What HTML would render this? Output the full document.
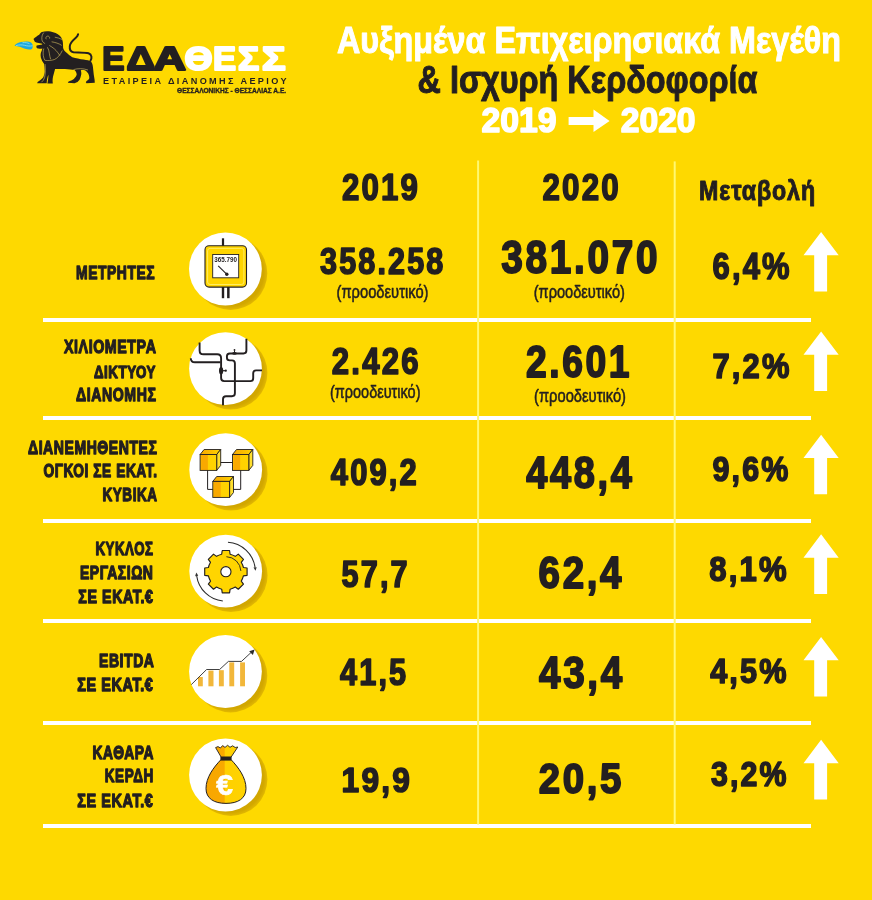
<!DOCTYPE html>
<html lang="el"><head><meta charset="utf-8"><title>ΕΔΑ ΘΕΣΣ - Αυξημένα Επιχειρησιακά Μεγέθη 2019-2020</title>
<style>html,body{margin:0;padding:0;background:#fed900;}svg{display:block;}</style></head>
<body>
<svg width="872" height="900" viewBox="0 0 872 900">
<rect x="0" y="0" width="872" height="900" fill="#fed900"/>
<path d="M33.5,39 C35,37.5 37.5,35.8 39.2,34.8 C40.2,33 41,32.3 42,31.9 C44.5,31.1 48,31 50.6,31.6 C54,32.2 57.5,33.8 59.8,35.8 C62,38 63,41 63,44.1 L63.1,47.7 C63.4,49.5 64.5,51 66,52.3 C68,54 70,56 72.3,57.2 C76,58.3 80,59 83.5,59.5 C87,60 89.5,60.5 91.2,61.8 C92.5,63.5 93,66.5 93.2,69.4 C93.5,73 94,76.5 94.6,79.8 L94.8,82.8 L86.4,83.2 L85.8,82 C86.8,80.8 88.6,80 89.3,78.3 C89.3,76 88.8,74.8 88.2,73.5 C87.2,71.8 86,70.8 84.8,70.2 C83.5,69.9 82,69.9 80.8,70.3 C81.3,72 81.5,73.5 81.2,74.8 C80.8,76.8 80.2,78.5 79.6,79.8 L77.5,82 L74.5,83.2 L67.8,82.8 L68.3,81.8 C70.3,81 72.5,80.2 73.8,79.1 C75.3,77.5 76.5,76 76.7,74.6 C76.6,72.8 75.8,71.3 74.5,70 C70,69.3 60,69 55.1,69 C54.5,71 54,73 53.6,74.6 C52.8,77.5 52.3,80 52.8,83.4 L47.4,83.4 L47.7,81.8 C48.2,79 48.5,76.8 48.3,74.8 C47.4,77.3 46.8,80 46.7,83.3 L37.2,83.2 L37.6,82 C39.5,80.8 41.5,79.5 43.2,77.6 C44,75.5 44.7,73 44.7,70.9 C44.7,68 44.4,65.5 43.9,63.4 C42.8,62 42,61 41.8,60 C41,58.5 40.6,57 40.6,55.5 C40.6,53.5 41,52 41.8,50.5 L42.4,48.4 C41,48.7 38.5,48.8 37,48.3 L36.3,47 L36.6,45.6 L42.2,44.6 L42.2,43.7 L36.3,42.5 L34.8,41.8 Z" fill="#231f20"/>
<path d="M90.3,61 C92.2,58.5 92,54.6 88.5,53.3 C85,52.4 78,52.6 73.5,52.3 C70.5,51.8 69.5,49 69.8,46 C70.2,42.5 73.5,39.8 76,37.6 C77.2,36.4 77.8,35.5 78.1,34.3" fill="none" stroke="#231f20" stroke-width="2.0" stroke-linecap="round"/>
<g fill="none" stroke="#e9cf6a" stroke-width="0.55"><path d="M46.3,39.2 A1.9,1.9 0 1 1 49.6,38.6"/><path d="M43.8,32.6 C42.2,34.5 41.6,37 41.9,39.5 C42.2,41.5 43.3,42.8 45.1,43.6"/><path d="M54.8,37.2 C57.5,37.6 60,38.4 62.1,39.5"/><path d="M51.6,41.8 C55,42.3 59,43.5 61.7,45.4"/><path d="M49.3,45.4 C53,47.5 56,50 57.5,52.3 C58.5,53.5 59.2,54.5 59.8,55.5"/><path d="M43.8,48.6 C43.1,51 43,53.5 43.3,55.5 C43.6,57.5 44.1,59 44.7,60.1"/><path d="M47.4,47.3 C48.5,49 49.1,51 49.3,53.2 C49.6,55.5 50.1,57.5 50.6,59.2"/><path d="M44.7,60.3 C48,60.8 51.5,60.5 54.5,59.5 C57.5,58 60.3,55 62.3,50.5"/><path d="M45,64 C45.5,68 45.5,73 44.6,77.5 C44,79.5 43,81 41.5,82.2"/><path d="M73.5,69.6 C78,68.3 83,68.3 88,70"/></g>
<path d="M14.5,45.4 C16,43.5 18.5,42.3 21,41.9 C23.5,41.4 26.5,41.2 29.3,41.7 C31.2,42.1 32.5,43.4 32.6,45 C32.8,46.5 32.8,48 32,48.9 C30.5,49.9 27.5,49.7 25,48.8 C23,48.2 21.5,47.3 20,46.7 C18,46.2 16,46 14.5,45.4 Z" fill="#1fa8de"/>
<path d="M16,45.6 C19,44.8 22,44.6 24.5,45.3 C27,46 29.5,46.3 32.6,45.8 M22.5,42.7 C25,42.3 27.5,42.7 29.5,43.7" fill="none" stroke="#8fe3f0" stroke-width="0.8"/>
<polygon points="568.6,116.9 593.5,116.9 593.5,109.6 609.6,120.9 593.5,132.1 593.5,124.9 568.6,124.9" fill="#fff"/>
<rect x="43" y="318" width="768" height="4" fill="#fff"/>
<rect x="43" y="416" width="768" height="4" fill="#fff"/>
<rect x="43" y="519" width="768" height="4" fill="#fff"/>
<rect x="43" y="619" width="768" height="4" fill="#fff"/>
<rect x="43" y="721" width="768" height="4" fill="#fff"/>
<rect x="43" y="824" width="768" height="4" fill="#fff"/>
<rect x="477.1" y="160.5" width="2" height="664" fill="#fff870"/>
<rect x="673.7" y="161.4" width="2" height="663" fill="#fff870"/>
<polygon points="821.1,231.9 838.7,255.3 827.1,255.3 827.1,291.5 814.2,291.5 814.2,255.3 803.5,255.3" fill="#fff"/>
<polygon points="821.1,331.4 838.7,354.8 827.1,354.8 827.1,391.0 814.2,391.0 814.2,354.8 803.5,354.8" fill="#fff"/>
<polygon points="821.1,434.7 838.7,458.1 827.1,458.1 827.1,494.3 814.2,494.3 814.2,458.1 803.5,458.1" fill="#fff"/>
<polygon points="821.1,534.3 838.7,557.7 827.1,557.7 827.1,593.9 814.2,593.9 814.2,557.7 803.5,557.7" fill="#fff"/>
<polygon points="821.1,636.9 838.7,660.3 827.1,660.3 827.1,696.5 814.2,696.5 814.2,660.3 803.5,660.3" fill="#fff"/>
<polygon points="821.1,739.8 838.7,763.2 827.1,763.2 827.1,799.4 814.2,799.4 814.2,763.2 803.5,763.2" fill="#fff"/>
<defs><filter id="sb" x="-20%" y="-20%" width="140%" height="140%"><feGaussianBlur stdDeviation="0.7"/></filter><linearGradient id="bagg" gradientUnits="userSpaceOnUse" x1="200" x2="250" y1="0" y2="0"><stop offset="0" stop-color="#f8a500"/><stop offset="0.484" stop-color="#f8a900"/><stop offset="0.504" stop-color="#ffd000"/><stop offset="1" stop-color="#ffd400"/></linearGradient><radialGradient id="shg" cx="0.5" cy="0.5" r="0.5"><stop offset="0" stop-color="#cfa300"/><stop offset="0.9" stop-color="#d2a700"/><stop offset="1" stop-color="#e3b900"/></radialGradient><linearGradient id="cubeg" x1="0" x2="1" y1="0" y2="0"><stop offset="0" stop-color="#ffc400"/><stop offset="0.1" stop-color="#f9a900"/><stop offset="0.44" stop-color="#f9a900"/><stop offset="0.5" stop-color="#ffd200"/><stop offset="1" stop-color="#ffd400"/></linearGradient><linearGradient id="cubet" x1="0" x2="1" y1="0" y2="0"><stop offset="0" stop-color="#f7a800"/><stop offset="0.6" stop-color="#fcc000"/><stop offset="1" stop-color="#ffd800"/></linearGradient></defs>
<circle cx="230.6" cy="273.2" r="36.7" fill="url(#shg)" filter="url(#sb)"/>
<circle cx="225.40" cy="269.00" r="36.4" fill="#fff"/>
<circle cx="230.7" cy="372.9" r="36.7" fill="url(#shg)" filter="url(#sb)"/>
<circle cx="225.50" cy="368.70" r="36.4" fill="#fff"/>
<circle cx="230.9" cy="473.9" r="36.7" fill="url(#shg)" filter="url(#sb)"/>
<circle cx="225.70" cy="469.70" r="36.4" fill="#fff"/>
<circle cx="230.9" cy="575.3" r="36.7" fill="url(#shg)" filter="url(#sb)"/>
<circle cx="225.70" cy="571.10" r="36.4" fill="#fff"/>
<circle cx="230.6" cy="675.7" r="36.7" fill="url(#shg)" filter="url(#sb)"/>
<circle cx="225.45" cy="671.50" r="36.4" fill="#fff"/>
<circle cx="230.7" cy="779.2" r="36.7" fill="url(#shg)" filter="url(#sb)"/>
<circle cx="225.50" cy="775.00" r="36.4" fill="#fff"/>
<g stroke="#231f20"><rect x="221.9" y="238.3" width="2.2" height="8" fill="#231f20" stroke="none"/><rect x="221.8" y="286.5" width="2.4" height="11.7" fill="#231f20" stroke="none"/><rect x="227.1" y="286.5" width="2.5" height="11.7" fill="#231f20" stroke="none"/><rect x="205" y="245.8" width="41.5" height="41.3" rx="4" fill="#ffd500" stroke-width="1.1"/><rect x="207.6" y="248.4" width="36.3" height="36.1" rx="2.5" fill="none" stroke="#fff27a" stroke-width="0.8"/><rect x="212.7" y="254.5" width="26" height="23.3" fill="#fff" stroke-width="0.9"/><path d="M218.2,265.8 L226.9,274.4" stroke-width="1.1"/><circle cx="226.8" cy="274.3" r="1.7" fill="#231f20" stroke="none"/></g>
<text x="214.3" y="262.2" font-family="'Liberation Sans', sans-serif" font-weight="bold" font-size="6.4" textLength="22.8" lengthAdjust="spacingAndGlyphs" fill="#231f20">365.790</text>
<g fill="none" stroke="#231f20" stroke-width="1.9"><path d="M199.6,342.6 V350.4 Q199.6,354.3 203.5,354.3 H217.2 Q221.1,354.3 221.1,358.2 V378 Q221.1,381.1 224.2,381.1 H250.3 Q253.2,381.1 253.2,378.2 V373.3 Q253.2,370.4 256.1,370.4 H262"/><path d="M190.8,358.2 Q190.8,362.3 194.9,362.3 H220.5"/><path d="M246.4,338.7 V350.6 Q246.4,353.5 243.5,353.5 H229.8 Q226.9,353.5 226.9,356.4 V357.5 Q226.9,360.4 229.8,360.4 H232 Q234.9,360.4 234.9,363.3 V393.3 Q234.9,396.2 232,396.2 H226 Q223,396.2 223,399.2 V405.2"/></g>
<g fill="#231f20"><ellipse cx="221.1" cy="370.7" rx="2.1" ry="3.7"/><rect x="222.5" y="370.1" width="3" height="1.2"/><circle cx="225.8" cy="370.7" r="1.1"/><ellipse cx="234.5" cy="353.4" rx="2.3" ry="1.3"/><rect x="234" y="350.3" width="1" height="3"/><circle cx="234.5" cy="349.9" r="0.9"/></g>
<g fill="none" stroke="#231f20" stroke-width="1.0"><path d="M220,462.5 H233"/><path d="M207.6,470 V489.4 H213"/><path d="M240.7,470 V489.4 H230"/></g>
<polygon points="200.1,454.5 204.1,449.5 220.7,449.5 216.7,454.5" fill="url(#cubet)" stroke="#231f20" stroke-width="0.9" stroke-linejoin="round"/><polygon points="216.7,454.5 220.7,449.5 220.7,465.4 216.7,470.4" fill="#ffdf2e" stroke="#231f20" stroke-width="0.9" stroke-linejoin="round"/><rect x="200.1" y="454.5" width="16.6" height="15.9" fill="url(#cubeg)" stroke="#231f20" stroke-width="0.9"/>
<polygon points="232.5,454.5 236.5,449.5 252.8,449.5 248.8,454.5" fill="url(#cubet)" stroke="#231f20" stroke-width="0.9" stroke-linejoin="round"/><polygon points="248.8,454.5 252.8,449.5 252.8,465.4 248.8,470.4" fill="#ffdf2e" stroke="#231f20" stroke-width="0.9" stroke-linejoin="round"/><rect x="232.5" y="454.5" width="16.3" height="15.9" fill="url(#cubeg)" stroke="#231f20" stroke-width="0.9"/>
<polygon points="212.8,481.4 216.70000000000002,476.5 233.5,476.5 229.6,481.4" fill="url(#cubet)" stroke="#231f20" stroke-width="0.9" stroke-linejoin="round"/><polygon points="229.6,481.4 233.5,476.5 233.5,492.5 229.6,497.4" fill="#ffdf2e" stroke="#231f20" stroke-width="0.9" stroke-linejoin="round"/><rect x="212.8" y="481.4" width="16.8" height="16.0" fill="url(#cubeg)" stroke="#231f20" stroke-width="0.9"/>
<path d="M221.68,554.20 L222.24,550.51 L229.56,550.51 L230.10,554.20 A18.0,18.0 0 0 1 235.29,556.34 L238.29,554.13 L243.47,559.31 L241.25,562.30 A18.0,18.0 0 0 1 243.40,567.48 L247.09,568.04 L247.09,575.36 L243.40,575.90 A18.0,18.0 0 0 1 241.26,581.09 L243.47,584.09 L238.29,589.27 L235.30,587.05 A18.0,18.0 0 0 1 230.12,589.20 L229.56,592.89 L222.24,592.89 L221.70,589.20 A18.0,18.0 0 0 1 216.51,587.06 L213.51,589.27 L208.33,584.09 L210.55,581.10 A18.0,18.0 0 0 1 208.40,575.92 L204.71,575.36 L204.71,568.04 L208.40,567.50 A18.0,18.0 0 0 1 210.54,562.31 L208.33,559.31 L213.51,554.13 L216.50,556.35 A18.0,18.0 0 0 1 221.68,554.20 Z" fill="#ffd500" stroke="#231f20" stroke-width="1.15" stroke-linejoin="round"/>
<circle cx="225.9" cy="571.7" r="5.1" fill="#fff" stroke="#231f20" stroke-width="1.1"/>
<path d="M226.42,556.71 A15,15 0 0 1 240.88,570.91" fill="none" stroke="#231f20" stroke-width="0.9"/>
<g fill="none" stroke="#2a2a2a" stroke-width="1.05"><path d="M227.96,542.27 A29.5,29.5 0 0 1 255.11,567.59"/><path d="M222.82,601.04 A29.5,29.5 0 0 1 196.69,575.81"/></g>
<polygon points="255.47,570.80 256.70,567.26 253.52,567.59" fill="#333"/>
<polygon points="196.33,572.60 195.10,576.14 198.28,575.81" fill="#333"/>
<g fill="#f2b73a"><rect x="198" y="677" width="4.8" height="9.3"/><rect x="208.4" y="670.6" width="5.1" height="15.7"/><rect x="218.9" y="670.2" width="4.9" height="16.1"/><rect x="229.3" y="662.4" width="4.9" height="23.9"/><rect x="240.1" y="662.4" width="4.9" height="23.9"/></g>
<polyline points="191.3,684.6 206.6,669.5 219.6,669.5 228.4,661.4 241.5,661.4 251.8,651.8" fill="none" stroke="#2b2b2b" stroke-width="0.9"/>
<polygon points="254.6,649.6 249.2,651.3 252.9,654.9" fill="#2b2b2b"/>
<path d="M220.8,759.8 C213.5,767.5 206,777.5 206,788.5 C206,798.5 214,803.4 226,803.4 C238,803.4 246,798.5 246,788.5 C246,777.5 238.5,767.5 231.2,759.8 Z" fill="url(#bagg)" stroke="#231f20" stroke-width="1"/>
<path d="M221.2,757.2 L215.6,747.6 L218,746.6 L220.4,748 L222.6,745.6 L225,747.4 L227.6,745.3 L230,747.3 L232.6,745.8 L235.2,747.5 L237.8,747 L231,757.2 Z" fill="url(#bagg)" stroke="#231f20" stroke-width="0.9" stroke-linejoin="round"/>
<rect x="220.4" y="756.7" width="11.2" height="3.7" fill="#231f20"/>
<text x="224.6" y="795.2" text-anchor="middle" font-family="'Liberation Sans', sans-serif" font-weight="bold" font-size="30" fill="#fff" stroke="#fff" stroke-width="0.7">€</text>
<text x="337.00" y="52.50" font-family="'Liberation Sans', 'DejaVu Sans', sans-serif" font-weight="bold" font-size="37.39" textLength="504.00" lengthAdjust="spacingAndGlyphs" fill="#ffffff" stroke="#ffffff" stroke-width="1.0" stroke-linejoin="round">Αυξημένα Επιχειρησιακά Μεγέθη</text>
<text x="417.50" y="92.50" font-family="'Liberation Sans', 'DejaVu Sans', sans-serif" font-weight="bold" font-size="38.12" textLength="340.00" lengthAdjust="spacingAndGlyphs" fill="#231f20" stroke="#231f20" stroke-width="1.0" stroke-linejoin="round">&amp; Ισχυρή Κερδοφορία</text>
<text transform="translate(481.39 131.82) scale(0.9407 1)" font-family="'Liberation Sans', 'DejaVu Sans', sans-serif" font-weight="bold" font-size="35.89" fill="#ffffff" stroke="#ffffff" stroke-width="1.6" stroke-linejoin="round" vector-effect="non-scaling-stroke"><tspan x="0.00">2</tspan><tspan x="19.94">0</tspan><tspan x="39.89">1</tspan><tspan x="59.84">9</tspan></text>
<text transform="translate(620.81 131.82) scale(0.9367 1)" font-family="'Liberation Sans', 'DejaVu Sans', sans-serif" font-weight="bold" font-size="35.89" fill="#ffffff" stroke="#ffffff" stroke-width="1.6" stroke-linejoin="round" vector-effect="non-scaling-stroke"><tspan x="0.00">2</tspan><tspan x="19.94">0</tspan><tspan x="39.89">2</tspan><tspan x="59.84">0</tspan></text>
<text transform="translate(341.88 199.82) scale(0.8598 1)" font-family="'Liberation Sans', 'DejaVu Sans', sans-serif" font-weight="bold" font-size="36.31" fill="#231f20" stroke="#231f20" stroke-width="1.6" stroke-linejoin="round" vector-effect="non-scaling-stroke"><tspan x="0.00">2</tspan><tspan x="22.71">0</tspan><tspan x="45.44">1</tspan><tspan x="68.17">9</tspan></text>
<text transform="translate(542.50 199.82) scale(0.8623 1)" font-family="'Liberation Sans', 'DejaVu Sans', sans-serif" font-weight="bold" font-size="36.31" fill="#231f20" stroke="#231f20" stroke-width="1.6" stroke-linejoin="round" vector-effect="non-scaling-stroke"><tspan x="0.00">2</tspan><tspan x="22.71">0</tspan><tspan x="45.44">2</tspan><tspan x="68.17">0</tspan></text>
<text x="699.00" y="199.50" font-family="'Liberation Sans', 'DejaVu Sans', sans-serif" font-weight="bold" font-size="27.25" textLength="117.00" lengthAdjust="spacingAndGlyphs" fill="#231f20" stroke="#231f20" stroke-width="1.0" stroke-linejoin="round" letter-spacing="1.09">Μεταβολή</text>
<text transform="translate(320.05 274.02) scale(0.8484 1)" font-family="'Liberation Sans', 'DejaVu Sans', sans-serif" font-weight="bold" font-size="36.03" fill="#231f20" stroke="#231f20" stroke-width="1.6" stroke-linejoin="round" vector-effect="non-scaling-stroke"><tspan x="0.00">3</tspan><tspan x="22.54">5</tspan><tspan x="45.09">8</tspan><tspan x="67.64">.</tspan><tspan x="80.18">2</tspan><tspan x="102.73">5</tspan><tspan x="125.29">8</tspan></text>
<text transform="translate(331.87 374.02) scale(0.8647 1)" font-family="'Liberation Sans', 'DejaVu Sans', sans-serif" font-weight="bold" font-size="36.03" fill="#231f20" stroke="#231f20" stroke-width="1.6" stroke-linejoin="round" vector-effect="non-scaling-stroke"><tspan x="0.00">2</tspan><tspan x="22.54">.</tspan><tspan x="35.08">4</tspan><tspan x="57.63">2</tspan><tspan x="80.18">6</tspan></text>
<text transform="translate(330.81 485.32) scale(0.8576 1)" font-family="'Liberation Sans', 'DejaVu Sans', sans-serif" font-weight="bold" font-size="36.03" fill="#231f20" stroke="#231f20" stroke-width="1.6" stroke-linejoin="round" vector-effect="non-scaling-stroke"><tspan x="0.00">4</tspan><tspan x="22.54">0</tspan><tspan x="45.09">9</tspan><tspan x="67.64">,</tspan><tspan x="80.18">2</tspan></text>
<text transform="translate(341.57 587.22) scale(0.8501 1)" font-family="'Liberation Sans', 'DejaVu Sans', sans-serif" font-weight="bold" font-size="36.03" fill="#231f20" stroke="#231f20" stroke-width="1.6" stroke-linejoin="round" vector-effect="non-scaling-stroke"><tspan x="0.00">5</tspan><tspan x="22.54">7</tspan><tspan x="45.09">,</tspan><tspan x="57.63">7</tspan></text>
<text transform="translate(340.04 684.92) scale(0.8517 1)" font-family="'Liberation Sans', 'DejaVu Sans', sans-serif" font-weight="bold" font-size="36.03" fill="#231f20" stroke="#231f20" stroke-width="1.6" stroke-linejoin="round" vector-effect="non-scaling-stroke"><tspan x="0.00">4</tspan><tspan x="22.54">1</tspan><tspan x="45.09">,</tspan><tspan x="57.63">5</tspan></text>
<text transform="translate(341.60 791.92) scale(0.8905 1)" font-family="'Liberation Sans', 'DejaVu Sans', sans-serif" font-weight="bold" font-size="35.60" fill="#231f20" stroke="#231f20" stroke-width="1.6" stroke-linejoin="round" vector-effect="non-scaling-stroke"><tspan x="0.00">1</tspan><tspan x="22.27">9</tspan><tspan x="44.55">,</tspan><tspan x="56.93">9</tspan></text>
<text transform="translate(501.31 273.32) scale(0.8457 1)" font-family="'Liberation Sans', 'DejaVu Sans', sans-serif" font-weight="bold" font-size="45.82" fill="#231f20" stroke="#231f20" stroke-width="1.9" stroke-linejoin="round" vector-effect="non-scaling-stroke"><tspan x="0.00">3</tspan><tspan x="28.68">8</tspan><tspan x="57.37">1</tspan><tspan x="86.04">.</tspan><tspan x="101.98">0</tspan><tspan x="130.68">7</tspan><tspan x="159.35">0</tspan></text>
<text transform="translate(525.99 376.93) scale(0.8309 1)" font-family="'Liberation Sans', 'DejaVu Sans', sans-serif" font-weight="bold" font-size="44.82" fill="#231f20" stroke="#231f20" stroke-width="1.9" stroke-linejoin="round" vector-effect="non-scaling-stroke"><tspan x="0.00">2</tspan><tspan x="28.06">.</tspan><tspan x="43.63">6</tspan><tspan x="71.69">0</tspan><tspan x="99.75">1</tspan></text>
<text transform="translate(526.37 488.13) scale(0.8461 1)" font-family="'Liberation Sans', 'DejaVu Sans', sans-serif" font-weight="bold" font-size="44.82" fill="#231f20" stroke="#231f20" stroke-width="1.9" stroke-linejoin="round" vector-effect="non-scaling-stroke"><tspan x="0.00">4</tspan><tspan x="28.06">4</tspan><tspan x="56.12">8</tspan><tspan x="84.18">,</tspan><tspan x="99.75">4</tspan></text>
<text transform="translate(538.58 588.33) scale(0.8718 1)" font-family="'Liberation Sans', 'DejaVu Sans', sans-serif" font-weight="bold" font-size="44.11" fill="#231f20" stroke="#231f20" stroke-width="1.9" stroke-linejoin="round" vector-effect="non-scaling-stroke"><tspan x="0.00">6</tspan><tspan x="27.62">2</tspan><tspan x="55.24">,</tspan><tspan x="70.58">4</tspan></text>
<text transform="translate(539.12 688.13) scale(0.8702 1)" font-family="'Liberation Sans', 'DejaVu Sans', sans-serif" font-weight="bold" font-size="44.26" fill="#231f20" stroke="#231f20" stroke-width="1.9" stroke-linejoin="round" vector-effect="non-scaling-stroke"><tspan x="0.00">4</tspan><tspan x="27.71">3</tspan><tspan x="55.41">,</tspan><tspan x="70.79">4</tspan></text>
<text transform="translate(538.68 793.33) scale(0.8891 1)" font-family="'Liberation Sans', 'DejaVu Sans', sans-serif" font-weight="bold" font-size="43.12" fill="#231f20" stroke="#231f20" stroke-width="1.9" stroke-linejoin="round" vector-effect="non-scaling-stroke"><tspan x="0.00">2</tspan><tspan x="26.99">0</tspan><tspan x="53.97">,</tspan><tspan x="68.98">5</tspan></text>
<text x="336.50" y="298.33" font-family="'Liberation Sans', 'DejaVu Sans', sans-serif" font-weight="normal" font-size="18.02" textLength="92.00" lengthAdjust="spacingAndGlyphs" fill="#231f20" stroke="#231f20" stroke-width="0.55" stroke-linejoin="round">(προοδευτικό)</text>
<text x="533.70" y="297.93" font-family="'Liberation Sans', 'DejaVu Sans', sans-serif" font-weight="normal" font-size="18.02" textLength="91.30" lengthAdjust="spacingAndGlyphs" fill="#231f20" stroke="#231f20" stroke-width="0.55" stroke-linejoin="round">(προοδευτικό)</text>
<text x="330.00" y="398.03" font-family="'Liberation Sans', 'DejaVu Sans', sans-serif" font-weight="normal" font-size="18.02" textLength="90.50" lengthAdjust="spacingAndGlyphs" fill="#231f20" stroke="#231f20" stroke-width="0.55" stroke-linejoin="round">(προοδευτικό)</text>
<text x="534.00" y="401.73" font-family="'Liberation Sans', 'DejaVu Sans', sans-serif" font-weight="normal" font-size="18.02" textLength="92.00" lengthAdjust="spacingAndGlyphs" fill="#231f20" stroke="#231f20" stroke-width="0.55" stroke-linejoin="round">(προοδευτικό)</text>
<text transform="translate(712.53 278.62) scale(0.8422 1)" font-family="'Liberation Sans', 'DejaVu Sans', sans-serif" font-weight="bold" font-size="36.74" fill="#231f20" stroke="#231f20" stroke-width="1.6" stroke-linejoin="round" vector-effect="non-scaling-stroke"><tspan x="0.00">6</tspan><tspan x="22.99">,</tspan><tspan x="35.77">4</tspan><tspan x="58.78">%</tspan></text>
<text transform="translate(712.50 377.72) scale(0.8713 1)" font-family="'Liberation Sans', 'DejaVu Sans', sans-serif" font-weight="bold" font-size="35.46" fill="#231f20" stroke="#231f20" stroke-width="1.6" stroke-linejoin="round" vector-effect="non-scaling-stroke"><tspan x="0.00">7</tspan><tspan x="22.19">,</tspan><tspan x="34.53">2</tspan><tspan x="56.73">%</tspan></text>
<text transform="translate(712.56 481.02) scale(0.8524 1)" font-family="'Liberation Sans', 'DejaVu Sans', sans-serif" font-weight="bold" font-size="35.74" fill="#231f20" stroke="#231f20" stroke-width="1.6" stroke-linejoin="round" vector-effect="non-scaling-stroke"><tspan x="0.00">9</tspan><tspan x="22.36">,</tspan><tspan x="34.80">6</tspan><tspan x="57.18">%</tspan></text>
<text transform="translate(709.28 580.52) scale(0.8875 1)" font-family="'Liberation Sans', 'DejaVu Sans', sans-serif" font-weight="bold" font-size="35.04" fill="#231f20" stroke="#231f20" stroke-width="1.6" stroke-linejoin="round" vector-effect="non-scaling-stroke"><tspan x="0.00">8</tspan><tspan x="21.92">,</tspan><tspan x="34.11">1</tspan><tspan x="56.04">%</tspan></text>
<text transform="translate(710.19 683.22) scale(0.8648 1)" font-family="'Liberation Sans', 'DejaVu Sans', sans-serif" font-weight="bold" font-size="35.46" fill="#231f20" stroke="#231f20" stroke-width="1.6" stroke-linejoin="round" vector-effect="non-scaling-stroke"><tspan x="0.00">4</tspan><tspan x="22.19">,</tspan><tspan x="34.53">5</tspan><tspan x="56.73">%</tspan></text>
<text transform="translate(711.00 786.02) scale(0.8545 1)" font-family="'Liberation Sans', 'DejaVu Sans', sans-serif" font-weight="bold" font-size="35.46" fill="#231f20" stroke="#231f20" stroke-width="1.6" stroke-linejoin="round" vector-effect="non-scaling-stroke"><tspan x="0.00">3</tspan><tspan x="22.19">,</tspan><tspan x="34.53">2</tspan><tspan x="56.73">%</tspan></text>
<text x="76.10" y="279.05" font-family="'Liberation Sans', 'DejaVu Sans', sans-serif" font-weight="bold" font-size="18.55" textLength="79.10" lengthAdjust="spacingAndGlyphs" fill="#231f20" stroke="#231f20" stroke-width="1.3" stroke-linejoin="round" letter-spacing="0.74">ΜΕΤΡΗΤΕΣ</text>
<text x="64.00" y="353.25" font-family="'Liberation Sans', 'DejaVu Sans', sans-serif" font-weight="bold" font-size="18.84" textLength="92.50" lengthAdjust="spacingAndGlyphs" fill="#231f20" stroke="#231f20" stroke-width="1.3" stroke-linejoin="round" letter-spacing="0.75">ΧΙΛΙΟΜΕΤΡΑ</text>
<text x="94.00" y="377.65" font-family="'Liberation Sans', 'DejaVu Sans', sans-serif" font-weight="bold" font-size="16.81" textLength="62.00" lengthAdjust="spacingAndGlyphs" fill="#231f20" stroke="#231f20" stroke-width="1.3" stroke-linejoin="round" letter-spacing="0.67">ΔΙΚΤΥΟΥ</text>
<text x="76.00" y="401.45" font-family="'Liberation Sans', 'DejaVu Sans', sans-serif" font-weight="bold" font-size="18.84" textLength="80.50" lengthAdjust="spacingAndGlyphs" fill="#231f20" stroke="#231f20" stroke-width="1.3" stroke-linejoin="round" letter-spacing="0.75">ΔΙΑΝΟΜΗΣ</text>
<text x="28.00" y="453.65" font-family="'Liberation Sans', 'DejaVu Sans', sans-serif" font-weight="bold" font-size="17.97" textLength="129.50" lengthAdjust="spacingAndGlyphs" fill="#231f20" stroke="#231f20" stroke-width="1.3" stroke-linejoin="round" letter-spacing="0.72">ΔΙΑΝΕΜΗΘΕΝΤΕΣ</text>
<text x="43.50" y="477.35" font-family="'Liberation Sans', 'DejaVu Sans', sans-serif" font-weight="bold" font-size="18.55" textLength="114.00" lengthAdjust="spacingAndGlyphs" fill="#231f20" stroke="#231f20" stroke-width="1.3" stroke-linejoin="round" letter-spacing="0.74">ΟΓΚΟΙ ΣΕ ΕΚΑΤ.</text>
<text x="102.50" y="501.45" font-family="'Liberation Sans', 'DejaVu Sans', sans-serif" font-weight="bold" font-size="18.55" textLength="55.00" lengthAdjust="spacingAndGlyphs" fill="#231f20" stroke="#231f20" stroke-width="1.3" stroke-linejoin="round" letter-spacing="0.74">ΚΥΒΙΚΑ</text>
<text x="95.50" y="554.95" font-family="'Liberation Sans', 'DejaVu Sans', sans-serif" font-weight="bold" font-size="17.97" textLength="58.00" lengthAdjust="spacingAndGlyphs" fill="#231f20" stroke="#231f20" stroke-width="1.3" stroke-linejoin="round" letter-spacing="0.72">ΚΥΚΛΟΣ</text>
<text x="80.00" y="578.85" font-family="'Liberation Sans', 'DejaVu Sans', sans-serif" font-weight="bold" font-size="18.12" textLength="73.50" lengthAdjust="spacingAndGlyphs" fill="#231f20" stroke="#231f20" stroke-width="1.3" stroke-linejoin="round" letter-spacing="0.72">ΕΡΓΑΣΙΩΝ</text>
<text x="78.30" y="602.95" font-family="'Liberation Sans', 'DejaVu Sans', sans-serif" font-weight="bold" font-size="18.12" textLength="75.20" lengthAdjust="spacingAndGlyphs" fill="#231f20" stroke="#231f20" stroke-width="1.3" stroke-linejoin="round" letter-spacing="0.72">ΣΕ ΕΚΑΤ.€</text>
<text x="99.00" y="666.75" font-family="'Liberation Sans', 'DejaVu Sans', sans-serif" font-weight="bold" font-size="18.12" textLength="55.50" lengthAdjust="spacingAndGlyphs" fill="#231f20" stroke="#231f20" stroke-width="1.3" stroke-linejoin="round" letter-spacing="0.72">EBITDA</text>
<text x="77.20" y="690.75" font-family="'Liberation Sans', 'DejaVu Sans', sans-serif" font-weight="bold" font-size="17.97" textLength="76.30" lengthAdjust="spacingAndGlyphs" fill="#231f20" stroke="#231f20" stroke-width="1.3" stroke-linejoin="round" letter-spacing="0.72">ΣΕ ΕΚΑΤ.€</text>
<text x="92.60" y="758.85" font-family="'Liberation Sans', 'DejaVu Sans', sans-serif" font-weight="bold" font-size="18.84" textLength="61.40" lengthAdjust="spacingAndGlyphs" fill="#231f20" stroke="#231f20" stroke-width="1.3" stroke-linejoin="round" letter-spacing="0.75">ΚΑΘΑΡΑ</text>
<text x="104.80" y="782.35" font-family="'Liberation Sans', 'DejaVu Sans', sans-serif" font-weight="bold" font-size="18.84" textLength="49.00" lengthAdjust="spacingAndGlyphs" fill="#231f20" stroke="#231f20" stroke-width="1.3" stroke-linejoin="round" letter-spacing="0.75">ΚΕΡΔΗ</text>
<text x="77.20" y="807.05" font-family="'Liberation Sans', 'DejaVu Sans', sans-serif" font-weight="bold" font-size="18.99" textLength="76.30" lengthAdjust="spacingAndGlyphs" fill="#231f20" stroke="#231f20" stroke-width="1.3" stroke-linejoin="round" letter-spacing="0.76">ΣΕ ΕΚΑΤ.€</text>
<text x="102.20" y="70.40" font-family="'Liberation Sans', 'DejaVu Sans', sans-serif" font-weight="bold" font-size="33.91" textLength="22.20" lengthAdjust="spacingAndGlyphs" fill="#231f20" stroke="#231f20" stroke-width="2.2" stroke-linejoin="round">Ε</text>
<text x="126.50" y="70.40" font-family="'Liberation Sans', 'DejaVu Sans', sans-serif" font-weight="bold" font-size="33.91" textLength="28.50" lengthAdjust="spacingAndGlyphs" fill="#231f20" stroke="#231f20" stroke-width="2.2" stroke-linejoin="round">Δ</text>
<text x="153.50" y="70.40" font-family="'Liberation Sans', 'DejaVu Sans', sans-serif" font-weight="bold" font-size="33.91" textLength="32.50" lengthAdjust="spacingAndGlyphs" fill="#231f20" stroke="#231f20" stroke-width="2.2" stroke-linejoin="round">Α</text>
<text x="184.50" y="70.40" font-family="'Liberation Sans', 'DejaVu Sans', sans-serif" font-weight="bold" font-size="33.91" textLength="28.00" lengthAdjust="spacingAndGlyphs" fill="#ffffff" stroke="#ffffff" stroke-width="2.2" stroke-linejoin="round">Θ</text>
<text x="213.00" y="70.40" font-family="'Liberation Sans', 'DejaVu Sans', sans-serif" font-weight="bold" font-size="33.91" textLength="23.00" lengthAdjust="spacingAndGlyphs" fill="#ffffff" stroke="#ffffff" stroke-width="2.2" stroke-linejoin="round">Ε</text>
<text x="238.00" y="70.40" font-family="'Liberation Sans', 'DejaVu Sans', sans-serif" font-weight="bold" font-size="33.91" textLength="21.10" lengthAdjust="spacingAndGlyphs" fill="#ffffff" stroke="#ffffff" stroke-width="2.2" stroke-linejoin="round">Σ</text>
<text x="262.00" y="70.40" font-family="'Liberation Sans', 'DejaVu Sans', sans-serif" font-weight="bold" font-size="33.91" textLength="23.50" lengthAdjust="spacingAndGlyphs" fill="#ffffff" stroke="#ffffff" stroke-width="2.2" stroke-linejoin="round">Σ</text>
<text x="103.00" y="84.00" font-family="'Liberation Sans', 'DejaVu Sans', sans-serif" font-weight="bold" font-size="9.13" textLength="183.50" lengthAdjust="spacing" fill="#231f20">ΕΤΑΙΡΕΙΑ ΔΙΑΝΟΜΗΣ ΑΕΡΙΟΥ</text>
<text x="177.00" y="92.83" font-family="'Liberation Sans', 'DejaVu Sans', sans-serif" font-weight="bold" font-size="7.17" textLength="109.20" lengthAdjust="spacingAndGlyphs" fill="#231f20" stroke="#231f20" stroke-width="0.35" stroke-linejoin="round">ΘΕΣΣΑΛΟΝΙΚΗΣ - ΘΕΣΣΑΛΙΑΣ Α.Ε.</text>
</svg>
</body></html>
